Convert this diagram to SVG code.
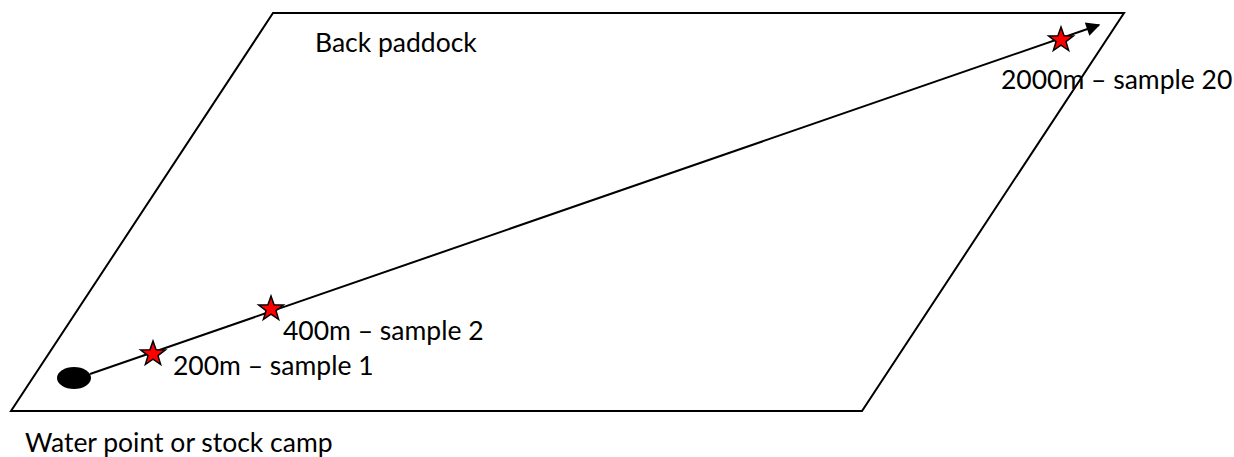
<svg xmlns="http://www.w3.org/2000/svg" width="1234" height="457" viewBox="0 0 1234 457">
  <style>
    .edge { fill: none; stroke: #000; stroke-width: 2; }
    .label { font-family: Lato, "Liberation Sans", sans-serif; font-size: 26.5px; fill: #000; }
    .star { fill: #ff0000; stroke: #000; stroke-width: 1.5; stroke-linejoin: miter; }
  </style>
  <defs>
    <marker id="arrow" viewBox="0 0 10 10" refX="9" refY="5" markerWidth="8" markerHeight="7" markerUnits="strokeWidth" orient="auto">
      <path d="M0,0 L10,5 L0,10 z" fill="#000"/>
    </marker>
    <!-- five-pointed star, outer radius 13 -->
    <polygon id="star5" points="0,-13 3.06,-4.21 12.36,-4.02 4.95,1.61 7.64,10.52 0,5.2 -7.64,10.52 -4.95,1.61 -12.36,-4.02 -3.06,-4.21"/>
  </defs>

  <g id="paddock">
    <polygon class="edge" points="11,411 862,411 1124,13 273,13"/>
    <text class="label" x="315" y="52">Back paddock</text>
  </g>

  <g id="water-point">
    <ellipse cx="74" cy="378" rx="17" ry="11" fill="#000"/>
    <text class="label" x="25" y="452">Water point or stock camp</text>
  </g>

  <g id="connectors">
    <line class="edge" x1="90" y1="374" x2="1099" y2="25" marker-end="url(#arrow)"/>
  </g>

  <g id="sample-1">
    <use href="#star5" class="star" x="153" y="354"/>
    <text class="label" x="173" y="375">200m – sample 1</text>
  </g>

  <g id="sample-2">
    <use href="#star5" class="star" x="271" y="309"/>
    <text class="label" x="283" y="340">400m – sample 2</text>
  </g>

  <g id="sample-20">
    <use href="#star5" class="star" x="1061" y="40"/>
    <text class="label" x="1001" y="89">2000m – sample 20</text>
  </g>
</svg>
